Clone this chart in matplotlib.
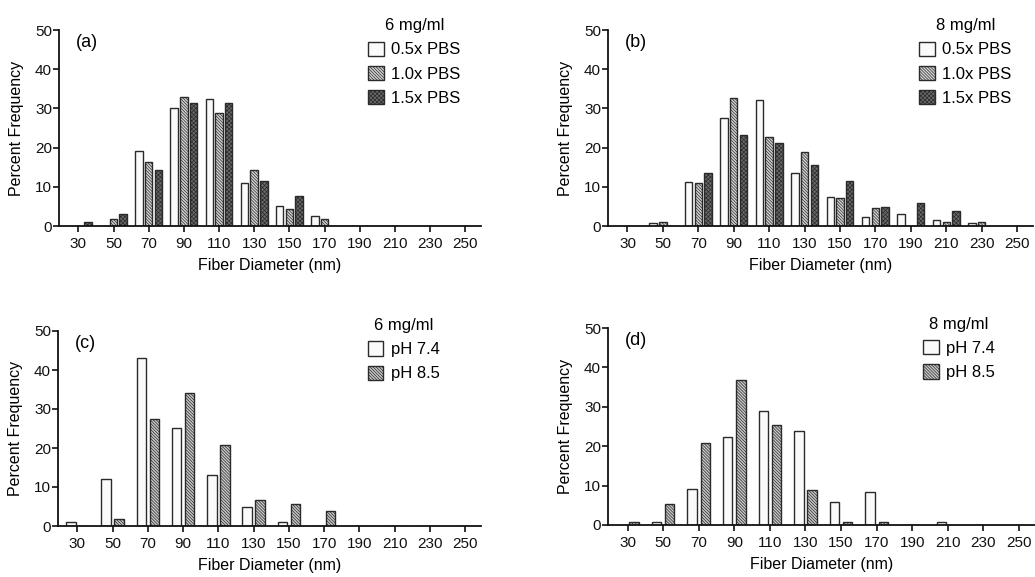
import numpy as np
import matplotlib
matplotlib.use('Agg')
import matplotlib.pyplot as plt

plt.rcParams['font.family'] = ['Liberation Sans', 'DejaVu Sans']
plt.rcParams['hatch.linewidth'] = 0.5

# fiber diameter bins (nm)
bins = [30, 50, 70, 90, 110, 130, 150, 170, 190, 210, 230, 250]

# (a) 6 mg/ml, PBS strength
a_pbs05 = [0, 0, 19.2, 30.0, 32.5, 10.9, 5.0, 2.6, 0, 0, 0, 0]
a_pbs10 = [0, 1.8, 16.2, 33.0, 28.7, 14.4, 4.3, 1.8, 0, 0, 0, 0]
a_pbs15 = [1.0, 3.0, 14.3, 31.5, 31.5, 11.5, 7.7, 0, 0, 0, 0, 0]

# (b) 8 mg/ml, PBS strength
b_pbs05 = [0, 0.8, 11.2, 27.6, 32.1, 13.4, 7.5, 2.2, 3.0, 1.5, 0.8, 0]
b_pbs10 = [0, 0.9, 10.9, 32.7, 22.8, 19.0, 7.2, 4.5, 0, 0.9, 0.9, 0]
b_pbs15 = [0, 0, 13.6, 23.3, 21.3, 15.6, 11.6, 4.8, 5.8, 3.9, 0, 0]

# (c) 6 mg/ml, pH
c_ph74 = [1.0, 12.0, 43.1, 25.1, 13.0, 5.0, 1.0, 0, 0, 0, 0, 0]
c_ph85 = [0, 1.9, 27.4, 34.0, 20.8, 6.7, 5.6, 3.8, 0, 0, 0, 0]

# (d) 8 mg/ml, pH
d_ph74 = [0, 0.85, 9.1, 22.3, 28.9, 23.9, 5.8, 8.3, 0, 0.85, 0, 0]
d_ph85 = [0.85, 5.4, 20.7, 36.9, 25.3, 8.9, 0.85, 0.85, 0, 0, 0, 0]

pbs_labels = ['0.5x PBS', '1.0x PBS', '1.5x PBS']
ph_labels = ['pH 7.4', 'pH 8.5']

edge = '#2a2a2a'
styles3 = [dict(facecolor='#fafafa', hatch=None),
           dict(facecolor='#d4d4d4', hatch='\\' * 11),
           dict(facecolor='#6a6a6a', hatch='x' * 8)]
styles2 = [dict(facecolor='#fafafa', hatch=None),
           dict(facecolor='#c8c8c8', hatch='\\' * 11)]

W, H = 1035, 577
fig = plt.figure(figsize=(W / 100, H / 100), dpi=100)


def make_ax(l, t, r, b):
    return fig.add_axes([l / W, 1 - b / H, (r - l) / W, (b - t) / H])


def draw(ax, series, labels, styles, offsets, width, tag, title, leg_x, leg_y):
    x = np.array(bins, dtype=float)
    for vals, lab, st, off in zip(series, labels, styles, offsets):
        ax.bar(x + off, vals, width=width, edgecolor=edge, linewidth=1.0,
               label=lab, **st)
    ax.set_xlim(19, 259)
    ax.set_ylim(0, 50)
    ax.set_xticks(bins)
    ax.set_yticks([0, 10, 20, 30, 40, 50])
    for s in ['top', 'right']:
        ax.spines[s].set_visible(False)
    for s in ['left', 'bottom']:
        ax.spines[s].set_linewidth(1.3)
        ax.spines[s].set_color('#111111')
    ax.tick_params(axis='both', direction='out', length=4, width=1.2,
                   labelsize=11, colors='#111111')
    ax.tick_params(axis='x', pad=4)
    ax.tick_params(axis='y', pad=1)
    ax.set_xlabel('Fiber Diameter (nm)', fontsize=11.5, labelpad=5)
    ax.set_ylabel('Percent Frequency', fontsize=11.5, labelpad=8)
    ax.text(0.04, 0.935, tag, transform=ax.transAxes, fontsize=13,
            ha='left', va='center')
    leg = ax.legend(loc='upper left', bbox_to_anchor=(leg_x, leg_y),
                    frameon=False, fontsize=12, title=title,
                    title_fontsize=12, borderpad=0, borderaxespad=0,
                    handlelength=0.95, handleheight=0.95,
                    handletextpad=0.45, labelspacing=0.5)
    return leg


ax_a = make_ax(59, 30, 481, 226)
draw(ax_a, [a_pbs05, a_pbs10, a_pbs15], pbs_labels, styles3,
     [-5.5, 0, 5.5], 4.2, '(a)', '6 mg/ml', 0.732, 1.06)

ax_b = make_ax(608, 30, 1033, 226)
draw(ax_b, [b_pbs05, b_pbs10, b_pbs15], pbs_labels, styles3,
     [-5.5, 0, 5.5], 4.2, '(b)', '8 mg/ml', 0.732, 1.06)

ax_c = make_ax(58, 331, 481, 526)
draw(ax_c, [c_ph74, c_ph85], ph_labels, styles2,
     [-3.7, 3.7], 5.3, '(c)', '6 mg/ml', 0.732, 1.067)

ax_d = make_ax(608, 328, 1035, 525)
draw(ax_d, [d_ph74, d_ph85], ph_labels, styles2,
     [-3.7, 3.7], 5.3, '(d)', '8 mg/ml', 0.737, 1.057)

fig.savefig('out.png', dpi=100)
